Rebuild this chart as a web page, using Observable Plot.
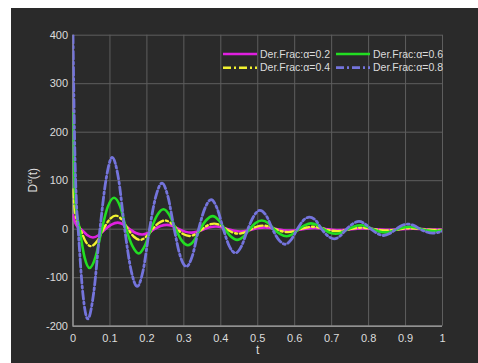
<!DOCTYPE html>
<html><head><meta charset="utf-8">
<script src="https://cdn.jsdelivr.net/npm/d3@7"></script>
<script src="https://cdn.jsdelivr.net/npm/@observablehq/plot@0.6"></script>
<style>
body{margin:0;background:#fff;width:478px;height:363px;overflow:hidden;position:relative;font-family:Arial,"Liberation Sans",sans-serif}
#panel{position:absolute;left:11px;top:8px;width:467px;height:355px;background:#2a2a2a}
#panel svg{position:absolute;left:0;top:0}
</style></head>
<body><div id="panel"></div>
<script>
const seriesNames = ["Der.Frac:α=0.2","Der.Frac:α=0.4","Der.Frac:α=0.6","Der.Frac:α=0.8"];
const seriesColors = ["#e020e0","#f2f230","#22dd22","#7474dc"];
const seriesDash = [null,"8,3,2,3",null,"8,3,2,3"];
const seriesWidth = [2.6,2.4,2.6,2.8];
const xTicks = [0,0.1,0.2,0.3,0.4,0.5,0.6,0.7,0.8,0.9,1];
const xTickLabels = ["0","0.1","0.2","0.3","0.4","0.5","0.6","0.7","0.8","0.9","1"];
const yTicks = [-200,-100,0,100,200,300,400];
const yTickLabels = ["-200","-100","0","100","200","300","400"];

const alpha02 = [[0,29],[0.005,15],[0.012,5],[0.022,0],[0.038,-12],[0.054,-17],[0.070,-12],[0.087,0],[0.104,9.6],[0.121,13.5],[0.137,9.6],[0.154,0],[0.170,-7.8],[0.187,-11],[0.203,-7.8],[0.220,0],[0.237,6.4],[0.254,9],[0.270,6.4],[0.287,0],[0.303,-5],[0.320,-7],[0.337,-5],[0.354,0],[0.370,4],[0.387,5.7],[0.403,4],[0.420,0],[0.437,-3.3],[0.453,-4.6],[0.470,-3.3],[0.487,0],[0.503,2.6],[0.520,3.7],[0.537,2.6],[0.553,0],[0.570,-2.1],[0.587,-3],[0.603,-2.1],[0.620,0],[0.637,1.7],[0.653,2.4],[0.670,1.7],[0.687,0],[0.703,-1.4],[0.720,-2],[0.737,-1.4],[0.753,0],[0.770,1.1],[0.787,1.6],[0.803,1.1],[0.820,0],[0.837,-0.9],[0.853,-1.3],[0.870,-0.9],[0.887,0],[0.903,0.7],[0.920,1],[0.937,0.7],[0.953,0],[0.970,-0.6],[0.987,-0.8],[1.0,-0.7]];
const alpha04 = [[0,82],[0.004,45],[0.010,18],[0.020,0],[0.034,-25],[0.048,-35],[0.065,-25],[0.082,0],[0.099,20],[0.116,28],[0.132,20],[0.149,0],[0.165,-15.6],[0.182,-22],[0.198,-15.6],[0.215,0],[0.232,12.8],[0.249,18],[0.265,12.8],[0.282,0],[0.298,-10],[0.315,-14],[0.332,-10],[0.349,0],[0.365,8.2],[0.382,11.5],[0.398,8.2],[0.415,0],[0.432,-6.6],[0.448,-9.3],[0.465,-6.6],[0.482,0],[0.498,5.3],[0.515,7.5],[0.532,5.3],[0.548,0],[0.565,-4.3],[0.582,-6],[0.598,-4.3],[0.615,0],[0.632,3.5],[0.648,5],[0.665,3.5],[0.682,0],[0.698,-2.8],[0.715,-4],[0.732,-2.8],[0.748,0],[0.765,2.3],[0.782,3.2],[0.798,2.3],[0.815,0],[0.832,-1.8],[0.848,-2.6],[0.865,-1.8],[0.882,0],[0.898,1.5],[0.915,2.1],[0.932,1.5],[0.948,0],[0.965,-1.2],[0.982,-1.7],[1.0,-1.5]];
const alpha06 = [[0,240],[0.003,130],[0.007,55],[0.018,0],[0.031,-57],[0.045,-80],[0.061,-57],[0.078,0],[0.094,46],[0.111,65],[0.128,46],[0.144,0],[0.161,-35],[0.178,-50],[0.194,-35],[0.211,0],[0.228,29],[0.245,41],[0.261,29],[0.278,0],[0.294,-23],[0.311,-33],[0.328,-23],[0.344,0],[0.361,19],[0.378,27],[0.394,19],[0.411,0],[0.428,-15.6],[0.444,-22],[0.461,-15.6],[0.478,0],[0.494,12.8],[0.511,18],[0.528,12.8],[0.544,0],[0.561,-10.3],[0.578,-14.5],[0.594,-10.3],[0.611,0],[0.628,8.5],[0.644,12],[0.661,8.5],[0.678,0],[0.694,-6.7],[0.711,-9.5],[0.728,-6.7],[0.744,0],[0.761,5.7],[0.778,8],[0.794,5.7],[0.811,0],[0.828,-4.6],[0.845,-6.5],[0.861,-4.6],[0.878,0],[0.894,3.7],[0.911,5.2],[0.928,3.7],[0.944,0],[0.961,-3],[0.978,-4.2],[1.0,-2.5]];
const alpha08 = [[0,400],[0.002,290],[0.005,160],[0.009,60],[0.014,0],[0.027,-135],[0.040,-185],[0.056,-131],[0.073,0],[0.090,105],[0.106,148],[0.123,105],[0.140,0],[0.157,-84],[0.174,-118],[0.190,-84],[0.207,0],[0.224,67],[0.241,95],[0.257,67],[0.274,0],[0.290,-55],[0.307,-77],[0.323,-55],[0.340,0],[0.357,43],[0.374,61],[0.390,43],[0.407,0],[0.423,-35],[0.440,-49],[0.456,-35],[0.473,0],[0.490,28],[0.506,39],[0.523,28],[0.540,0],[0.557,-22],[0.574,-31],[0.590,-22],[0.607,0],[0.623,18],[0.640,25],[0.657,18],[0.673,0],[0.690,-14],[0.707,-20],[0.723,-14],[0.740,0],[0.757,11],[0.774,16],[0.790,11],[0.807,0],[0.824,-9],[0.841,-13],[0.857,-9],[0.874,0],[0.890,7.5],[0.907,10.5],[0.923,7.5],[0.940,0],[0.957,-5.7],[0.974,-8],[1.0,-4]];
const seriesData = [alpha02, alpha04, alpha06, alpha08];

const W = 467, H = 355;
const mL = 61.5, mR = 36, mT = 26.7, mB = 37.3;
const grid = "#5e5e5e", axisCol = "#a8a8a8", textCol = "#dcdcdc";

const lineMarks = seriesData.map((d, i) => Plot.line(d, {
  x: p => p[0], y: p => p[1], stroke: seriesColors[i], strokeWidth: seriesWidth[i],
  strokeDasharray: seriesDash[i], curve: "monotone-x", clip: true
}));

const chart = Plot.plot({
  width: W, height: H, marginLeft: mL, marginRight: mR, marginTop: mT, marginBottom: mB,
  style: {background: "transparent", color: textCol, fontFamily: "Arial, 'Liberation Sans', sans-serif", fontSize: "11px"},
  x: {domain: [0, 1]},
  y: {domain: [-200, 400]},
  marks: [
    Plot.gridX(xTicks, {stroke: grid, strokeOpacity: 1, strokeWidth: 1}),
    Plot.gridY(yTicks, {stroke: grid, strokeOpacity: 1, strokeWidth: 1}),
    Plot.ruleX([0], {stroke: axisCol, strokeWidth: 1.2}),
    Plot.ruleY([-200], {stroke: axisCol, strokeWidth: 1.2}),
    Plot.axisX({ticks: xTicks, tickFormat: (d, i) => xTickLabels[i], tickSize: 0, tickPadding: 8, label: null, fill: textCol, fontSize: 11}),
    Plot.axisY({ticks: yTicks, tickFormat: (d, i) => yTickLabels[i], tickSize: 0, tickPadding: 5, label: null, fill: textCol, fontSize: 11}),
    Plot.text(["t"], {frameAnchor: "bottom", dy: 28, fill: textCol, fontSize: 12}),
    ...lineMarks
  ]
});
document.getElementById("panel").appendChild(chart);

const svg = d3.select(chart);
// y-axis label D^α(t)
const yl = svg.append("text")
  .attr("transform", `translate(${33 - 11},${(mT + H - mB) / 2}) rotate(-90)`)
  .attr("text-anchor", "middle").attr("dy", "0.35em")
  .attr("fill", textCol).attr("font-size", 12);
yl.append("tspan").text("D");
yl.append("tspan").attr("dy", -5).attr("font-size", 8).text("α");
yl.append("tspan").attr("dy", 5).text("(t)");

// legend (column-wise: 0.2, 0.4 | 0.6, 0.8)
const legX = [212, 325], legY = [46, 59.7];
seriesNames.forEach((name, i) => {
  const col = Math.floor(i / 2), row = i % 2;
  const g = svg.append("g");
  g.append("line").attr("x1", legX[col]).attr("x2", legX[col] + 34)
    .attr("y1", legY[row]).attr("y2", legY[row])
    .attr("stroke", seriesColors[i]).attr("stroke-width", seriesWidth[i])
    .attr("stroke-dasharray", seriesDash[i]);
  g.append("text").attr("x", legX[col] + 37).attr("y", legY[row]).attr("dy", "0.35em")
    .attr("text-anchor", "start")
    .attr("fill", textCol).attr("font-size", 10.5).text(name);
});
</script>
</body></html>
